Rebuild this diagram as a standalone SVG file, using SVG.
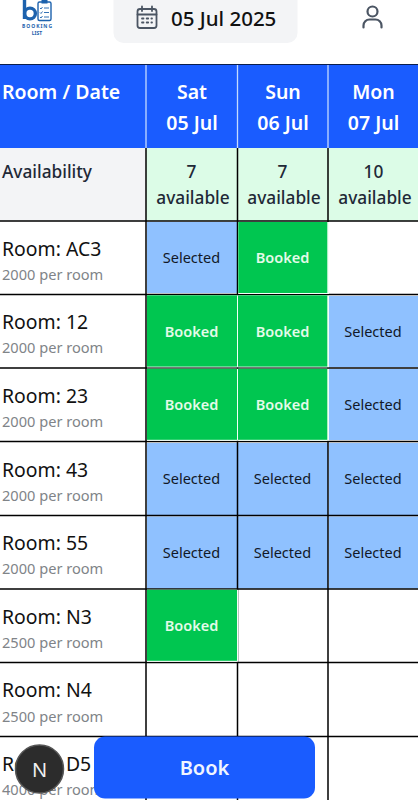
<svg xmlns="http://www.w3.org/2000/svg" width="418" height="800" viewBox="0 0 418 800">
<style>
text{font-family:"Noto Sans","Open Sans","Liberation Sans",sans-serif}
.hd{font-size:19.5px;font-weight:600;fill:#fff}
.c{text-anchor:middle}
.av{font-size:17.3px;fill:#1f2937;font-weight:500}
.rm{font-size:19.4px;fill:#111}
.pr{font-size:14.6px;fill:#808488}
.sel{font-size:14.5px;fill:#111827;text-anchor:middle}
.bkd{font-size:14.5px;fill:#e4fbe9;font-weight:600;text-anchor:middle}
.ln{stroke:#000;stroke-width:1.5;fill:none}
.s{fill:#8fc1ff}.b{fill:#00c650}.w{fill:#f2fff6}
.lg{font-size:5px;font-weight:700;fill:#1d62ad;text-anchor:middle}
</style>
<rect width="418" height="800" fill="#fff"/>
<g id="logo">
<path d="M24.500 0V19" stroke="#1d62ad" stroke-width="3.400" fill="none"/>
<circle cx="30" cy="13.500" r="5.400" fill="none" stroke="#1d62ad" stroke-width="3.400"/>
<rect x="38" y="2" width="13" height="18.500" rx="1.500" fill="#fff" stroke="#1d62ad" stroke-width="1.400"/>
<rect x="41.500" y="0" width="6" height="3.500" fill="#1d62ad"/>
<path d="M40 8l1 1 1.500-2M40 12.500l1 1 1.500-2M40 17l1 1 1.500-2M44 8h5M44 12.500h5M44 17h5" stroke="#1d62ad" stroke-width="0.900" fill="none"/>
<text class="lg" x="37" y="27.500" textLength="30">BOOKING</text>
<text class="lg" x="37" y="34.500">LIST</text>
</g>
<g id="date-picker">
<rect x="113.500" y="-20" width="184" height="63" rx="10" fill="#f3f4f6"/>
<g fill="none" stroke="#4b5563" stroke-width="1.800" stroke-linecap="round">
<rect x="137.500" y="9" width="19" height="19" rx="2.500"/>
<path d="M142 6.500v4.500M152 6.500v4.500M137.500 14.500h19"/>
<path d="M142 18.500h10M142 22.500h10" stroke-dasharray="1.500 3.200"/>
</g>
<text x="171" y="25.500" font-size="20.500" font-weight="500" fill="#111">05 Jul 2025</text>
</g>
<g id="user-icon" fill="none" stroke="#4b5563" stroke-width="2.200" stroke-linecap="round">
<circle cx="372.500" cy="11.500" r="5"/>
<path d="M363.500 27.500v-2a6 6 0 0 1 6-6h6a6 6 0 0 1 6 6v2"/>
</g>

<g id="header">
<rect x="0" y="64" width="418" height="1.500" fill="#0b1f4d"/>
<rect x="0" y="65" width="418" height="83" fill="#1a5cff"/>
<text class="hd" x="2" y="98.500">Room / Date</text>
<text class="hd c" x="192" y="98.500">Sat</text><text class="hd c" x="192" y="129.500">05 Jul</text>
<text class="hd c" x="283" y="98.500">Sun</text><text class="hd c" x="283" y="129.500">06 Jul</text>
<text class="hd c" x="373.500" y="98.500">Mon</text><text class="hd c" x="373.500" y="129.500">07 Jul</text>
</g>
<g id="availability">
<rect x="0" y="148" width="146" height="73" fill="#f3f4f6"/>
<rect x="146" y="148" width="272" height="73" fill="#dcfce7"/>
<text class="av" x="2" y="178">Availability</text>
<text class="av c" x="191.500" y="178">7</text><text class="av c" x="193" y="204">available</text>
<text class="av c" x="282.500" y="178">7</text><text class="av c" x="284" y="204">available</text>
<text class="av c" x="373.500" y="178">10</text><text class="av c" x="375" y="204">available</text>
</g>
<g id="selected-cells">
<rect class="s" x="147" y="222" width="90" height="71"/>
<rect class="s" x="329" y="296" width="89" height="71"/>
<rect class="s" x="329" y="369" width="89" height="71"/>
<rect class="s" x="147" y="443" width="90" height="72"/><rect class="s" x="238" y="443" width="90" height="72"/><rect class="s" x="329" y="443" width="89" height="72"/>
<rect class="s" x="147" y="516.500" width="90" height="72"/><rect class="s" x="238" y="516.500" width="90" height="72"/><rect class="s" x="329" y="516.500" width="89" height="72"/>
</g>
<g id="grid">
<path d="M0 221H418M0 294.500H418M0 368H418M0 441.500H418M0 515.500H418M0 589H418M0 662.500H418M0 736.500H418" class="ln"/>
<path d="M146 148V800M237.500 148V800M328 148V800" class="ln"/>
<path d="M146 65V148M237.500 65V148M328 65V148" stroke="#c4dbff" stroke-width="1.300" fill="none"/>
</g>
<g id="booked-cells">
<rect class="w" x="238.300" y="222" width="90.700" height="72"/><rect class="b" x="238.300" y="222" width="89" height="71"/>
<rect class="w" x="147" y="295.300" width="182" height="72"/><rect class="b" x="147" y="295.300" width="90" height="71.300"/><rect class="b" x="238" y="295.300" width="89.300" height="71.300"/>
<rect class="w" x="147" y="368.800" width="182" height="72"/><rect class="b" x="147" y="368.800" width="90" height="71"/><rect class="b" x="238" y="368.800" width="89.300" height="71"/>
<rect class="w" x="147" y="589.800" width="91" height="72"/><rect class="b" x="147" y="589.800" width="90" height="71"/>
</g>
<g id="rows">
<text class="rm" x="2" y="255.500">Room: AC3</text><text class="pr" x="2" y="279.500">2000 per room</text>
<text class="rm" x="2" y="329">Room: 12</text><text class="pr" x="2" y="353">2000 per room</text>
<text class="rm" x="2" y="402.500">Room: 23</text><text class="pr" x="2" y="427">2000 per room</text>
<text class="rm" x="2" y="476.500">Room: 43</text><text class="pr" x="2" y="500.500">2000 per room</text>
<text class="rm" x="2" y="550">Room: 55</text><text class="pr" x="2" y="574">2000 per room</text>
<text class="rm" x="2" y="623.500">Room: N3</text><text class="pr" x="2" y="648">2500 per room</text>
<text class="rm" x="2" y="697">Room: N4</text><text class="pr" x="2" y="721.500">2500 per room</text>
<text class="rm" x="2" y="771">Room: D5</text><text class="pr" x="2" y="795">4000 per room</text>
</g>
<g id="cell-labels">
<text class="sel" x="191.500" y="262.500">Selected</text><text class="bkd" x="282.500" y="262.500">Booked</text>
<text class="bkd" x="191.500" y="336.500">Booked</text><text class="bkd" x="282.500" y="336.500">Booked</text><text class="sel" x="373" y="336.500">Selected</text>
<text class="bkd" x="191.500" y="410">Booked</text><text class="bkd" x="282.500" y="410">Booked</text><text class="sel" x="373" y="410">Selected</text>
<text class="sel" x="191.500" y="484">Selected</text><text class="sel" x="282.500" y="484">Selected</text><text class="sel" x="373" y="484">Selected</text>
<text class="sel" x="191.500" y="557.500">Selected</text><text class="sel" x="282.500" y="557.500">Selected</text><text class="sel" x="373" y="557.500">Selected</text>
<text class="bkd" x="191.500" y="631">Booked</text>
</g>
<g id="book-button">
<rect x="94" y="736.500" width="221" height="62" rx="11" fill="#1a5cff"/>
<text x="204.500" y="775" font-size="20" font-weight="600" fill="#f0f5ff" text-anchor="middle">Book</text>
</g>
<g id="next-badge">
<circle cx="39.500" cy="769" r="24" fill="#2c2c2c" stroke="#555" stroke-width="1.500"/>
<text x="39.500" y="777" font-size="20" font-weight="400" fill="#f0f0f0" text-anchor="middle">N</text>
</g>
</svg>
